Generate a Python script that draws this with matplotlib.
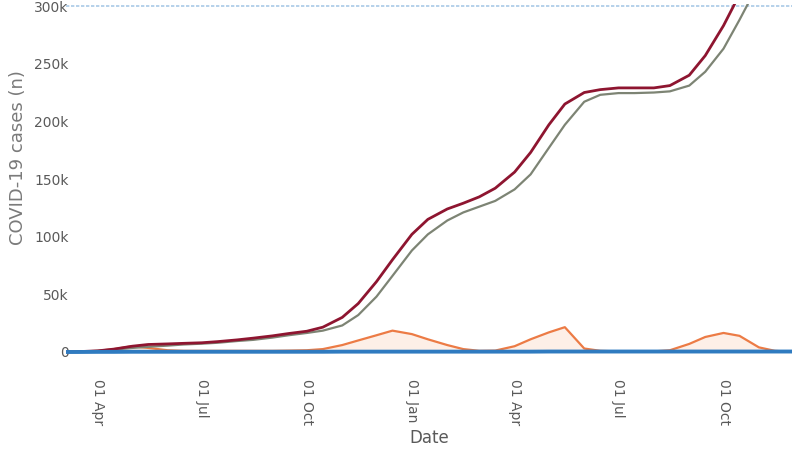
import numpy as np
import pandas as pd
import matplotlib
matplotlib.use('Agg')
import matplotlib.pyplot as plt
import matplotlib.dates as mdates
from matplotlib.ticker import FuncFormatter

# semi-monthly sample dates
dates = pd.to_datetime([
    '2020-03-04', '2020-03-15', '2020-04-01', '2020-04-15', '2020-05-01', '2020-05-15',
    '2020-06-01', '2020-06-15', '2020-07-01', '2020-07-15', '2020-08-01', '2020-08-15',
    '2020-09-01', '2020-09-15', '2020-10-01', '2020-10-15', '2020-11-01', '2020-11-15',
    '2020-12-01', '2020-12-15', '2021-01-01', '2021-01-15', '2021-02-01', '2021-02-15',
    '2021-03-01', '2021-03-15', '2021-04-01', '2021-04-15', '2021-05-01', '2021-05-15',
    '2021-06-01', '2021-06-15', '2021-07-01', '2021-07-15', '2021-08-01', '2021-08-15',
    '2021-09-01', '2021-09-15', '2021-10-01', '2021-10-15', '2021-11-01', '2021-11-15',
    '2021-12-01',
])

nan = np.nan
# cumulative cases (thousands)
cum_cases = [0, 0.3, 1, 2.5, 5, 6.5, 7, 7.5, 8, 9, 10.5, 12, 14, 16, 18, 21.5, 30, 42,
             61, 80, 102, 115, 124, 129, 134.5, 142, 156, 173, 197, 215, 225, 227.5,
             229, 229, 229, 231, 240, 257, 283, 310, nan, nan, nan]
# cumulative recovered (thousands)
cum_recovered = [0, 0.2, 0.8, 2, 3.5, 4.5, 5.5, 6.5, 7.2, 8, 9.5, 10.5, 12.5, 14.5, 16.5,
                 18.5, 23, 32, 48, 66, 88, 102, 114, 121, 126, 131, 141, 154, 177, 197,
                 217, 223, 224.5, 224.5, 225, 226, 231, 243, 263, 288, 320, nan, nan]
# active cases (thousands)
active = [0, 0.3, 1, 2.5, 5, 3.5, 1.5, 1, 1, 1, 1, 1, 1, 1.2, 1.5, 2.5, 6, 10, 14.5,
          18.5, 15.5, 11, 6, 2.5, 1, 1.2, 5, 11, 17, 21.5, 3, 1, 0.5, 0.5, 0.5, 1.5, 7,
          13, 16.5, 14, 4, 1, 0]
# deaths (thousands)
deaths = [0, 0, 0.1, 0.1, 0.2, 0.2, 0.2, 0.2, 0.2, 0.2, 0.2, 0.2, 0.2, 0.2, 0.2, 0.2,
          0.3, 0.3, 0.3, 0.3, 0.3, 0.3, 0.3, 0.3, 0.3, 0.3, 0.3, 0.3, 0.4, 0.4, 0.4,
          0.4, 0.4, 0.4, 0.4, 0.4, 0.4, 0.4, 0.4, 0.4, 0.4, 0.4, 0.4]

y_ticks = [0, 50, 100, 150, 200, 250, 300]

k = 1000.0
cum_cases = np.array(cum_cases) * k
cum_recovered = np.array(cum_recovered) * k
active = np.array(active) * k
deaths = np.array(deaths) * k

fig = plt.figure(figsize=(7.92, 4.59), dpi=100)
ax = fig.add_axes([66 / 792, 0.2113, 1 - 66 / 792, 0.7806])

label_col = '#5a5a5a'

ax.axhline(300 * k, color='#a9c9e6', lw=1.2, ls=(0, (2, 1)), zorder=1)
ax.fill_between(dates, 0, active, color='#f4a77a', alpha=0.18, lw=0, zorder=2)
ax.plot(dates, active, color='#ec7b45', lw=1.6, zorder=3)
ax.plot(dates, cum_recovered, color='#7d8474', lw=1.6, zorder=4)
ax.plot(dates, cum_cases, color='#8e1530', lw=2.0, zorder=5)
ax.plot(dates, deaths, color='#2f7bc0', lw=2.8, zorder=6)

ax.set_xlim(pd.Timestamp('2020-03-04'), pd.Timestamp('2021-11-30'))
ax.set_ylim(-8.7 * k, 302 * k)

ax.set_yticks([v * k for v in y_ticks])
ax.yaxis.set_major_formatter(FuncFormatter(lambda v, p: '0' if v == 0 else f'{int(v / k)}k'))
ax.xaxis.set_major_locator(mdates.MonthLocator(bymonth=[1, 4, 7, 10], bymonthday=1))
ax.xaxis.set_major_formatter(mdates.DateFormatter('%d %b'))

ax.tick_params(axis='both', length=0, labelsize=10, labelcolor=label_col)
ax.tick_params(axis='x', pad=12)
ax.tick_params(axis='y', pad=-2)
for lbl in ax.get_xticklabels():
    lbl.set_rotation(-90)
    lbl.set_va('top')
    lbl.set_ha('center')

for s in ax.spines.values():
    s.set_visible(False)

ax.set_xlabel('Date', fontsize=12, color=label_col, labelpad=3)
ax.set_ylabel('COVID-19 cases (n)', fontsize=13, color='#7a7a7a')
ax.yaxis.set_label_coords(-0.054, 0.57)

fig.savefig('out.png', dpi=100)
